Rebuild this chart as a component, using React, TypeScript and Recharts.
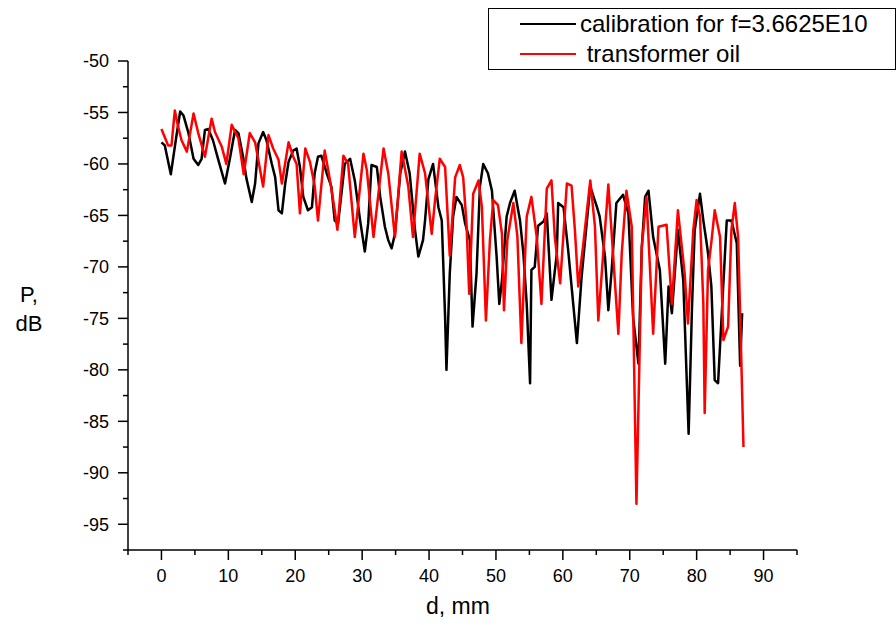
import React from 'react';
import { LineChart, Line, XAxis, YAxis } from 'recharts';

const calibD = [0.0, 0.5, 1.4, 2.3, 2.8, 3.3, 4.0, 4.8, 5.5, 6.0, 6.5, 7.0, 7.7, 8.5, 9.5, 10.2, 11.0, 11.5, 12.2, 12.7, 13.5, 14.0, 14.5, 15.2, 15.7, 16.5, 17.0, 17.5, 18.0, 18.5, 19.0, 19.7, 20.2, 20.7, 21.2, 21.9, 22.5, 22.9, 23.4, 23.9, 24.7, 25.4, 25.9, 26.4, 26.9, 27.4, 28.2, 28.9, 29.7, 30.4, 30.9, 31.4, 32.2, 32.7, 33.4, 33.9, 34.4, 34.9, 35.7, 36.4, 37.1, 37.9, 38.4, 39.1, 39.4, 39.9, 40.6, 41.4, 41.9, 42.4, 42.6, 43.1, 43.6, 44.1, 44.9, 45.4, 46.1, 46.5, 47.1, 47.6, 48.1, 48.8, 49.4, 50.1, 50.5, 50.9, 51.6, 52.1, 52.8, 53.6, 54.1, 54.6, 55.1, 55.3, 55.8, 56.3, 57.1, 57.6, 58.3, 59.1, 59.3, 60.1, 60.8, 62.1, 62.8, 63.6, 64.1, 65.1, 65.5, 66.3, 66.8, 67.3, 68.0, 69.0, 69.8, 70.5, 71.3, 71.8, 72.3, 72.8, 73.5, 74.5, 75.3, 75.8, 76.3, 77.2, 78.0, 78.8, 79.3, 79.7, 80.5, 81.0, 81.5, 81.7, 82.2, 82.7, 83.2, 83.7, 84.5, 85.2, 86.0, 86.5, 86.8];
const calibP = [-57.9, -58.2, -61.0, -57.0, -54.9, -55.3, -56.9, -59.5, -60.1, -59.5, -56.7, -56.6, -57.7, -59.6, -61.9, -59.6, -56.7, -57.0, -59.3, -61.4, -63.7, -61.9, -58.0, -56.9, -57.7, -60.0, -61.3, -64.5, -64.8, -61.9, -59.8, -58.7, -58.5, -60.3, -63.2, -64.5, -64.2, -60.9, -59.3, -59.2, -60.9, -62.2, -65.5, -65.8, -62.9, -60.0, -59.5, -61.6, -65.5, -68.5, -65.8, -60.1, -60.3, -63.2, -66.1, -67.4, -68.2, -66.8, -60.9, -58.8, -60.9, -66.4, -69.0, -67.4, -65.5, -61.5, -60.0, -64.2, -65.5, -74.9, -80.0, -70.6, -65.1, -63.2, -64.0, -65.8, -67.4, -75.8, -70.6, -62.2, -60.0, -60.9, -62.6, -69.0, -73.6, -71.3, -65.1, -63.8, -62.6, -65.5, -68.7, -73.6, -81.3, -70.3, -70.0, -66.0, -65.6, -64.8, -73.2, -68.7, -63.8, -64.2, -68.4, -77.4, -71.0, -65.5, -62.2, -64.2, -65.1, -69.0, -74.2, -70.3, -63.8, -63.0, -64.8, -74.9, -79.4, -68.1, -63.2, -62.6, -67.1, -70.3, -79.4, -71.9, -74.5, -66.4, -71.3, -86.2, -74.0, -66.5, -62.9, -65.5, -67.7, -68.7, -71.9, -81.0, -81.3, -75.2, -65.5, -65.5, -67.7, -79.6, -74.5];

const oilD = [0.0, 1.0, 1.5, 2.0, 2.5, 3.0, 3.8, 4.8, 5.5, 6.5, 7.5, 8.0, 9.0, 9.7, 10.5, 11.5, 12.3, 13.2, 14.0, 15.2, 16.0, 16.7, 17.5, 18.0, 19.0, 19.7, 20.2, 20.7, 21.5, 22.2, 22.9, 23.4, 24.4, 25.2, 25.9, 26.3, 27.2, 27.9, 28.9, 30.2, 30.7, 31.7, 33.2, 33.9, 34.9, 35.9, 36.9, 37.6, 38.6, 39.4, 40.4, 40.9, 41.6, 42.4, 43.1, 43.9, 44.6, 45.1, 45.6, 46.0, 46.6, 47.4, 47.9, 48.5, 49.1, 49.6, 50.3, 50.9, 51.2, 51.7, 52.6, 53.2, 53.8, 54.6, 55.3, 56.1, 56.8, 57.6, 58.3, 58.8, 59.6, 60.6, 61.3, 61.8, 62.3, 63.0, 64.1, 64.8, 65.3, 66.0, 66.8, 67.5, 68.3, 68.8, 69.5, 70.3, 71.0, 71.8, 72.5, 73.5, 74.3, 75.5, 76.3, 77.2, 78.2, 78.7, 79.5, 80.0, 80.5, 81.0, 81.2, 81.7, 82.2, 82.7, 83.5, 84.0, 84.7, 85.2, 85.7, 86.2, 86.7, 87.0];
const oilP = [-56.6, -58.2, -58.2, -54.8, -56.4, -57.7, -58.8, -55.1, -57.0, -59.3, -55.6, -56.9, -58.3, -60.0, -56.2, -57.5, -61.0, -57.0, -57.9, -62.2, -57.2, -58.5, -59.6, -61.9, -57.9, -59.3, -60.0, -64.8, -58.5, -59.8, -62.1, -65.5, -58.7, -61.6, -64.5, -66.4, -59.2, -60.0, -67.1, -59.0, -60.6, -67.1, -58.5, -60.9, -67.1, -58.8, -62.2, -67.1, -59.0, -60.9, -66.8, -63.5, -59.5, -60.3, -68.9, -61.3, -60.1, -61.3, -65.8, -72.6, -62.9, -61.6, -64.2, -75.2, -67.4, -63.5, -64.0, -66.8, -74.2, -67.4, -63.8, -67.0, -77.4, -65.1, -63.2, -67.1, -73.6, -62.4, -61.6, -67.1, -71.6, -61.9, -62.1, -66.4, -71.9, -68.1, -61.6, -66.1, -75.2, -69.0, -62.0, -68.7, -76.5, -68.7, -62.6, -66.1, -93.0, -68.1, -63.2, -76.5, -66.1, -65.9, -73.6, -64.5, -70.6, -75.5, -66.4, -63.5, -65.1, -73.6, -84.2, -70.3, -67.6, -64.5, -67.1, -77.1, -75.8, -66.4, -63.8, -67.1, -79.7, -87.5];

const xTicks = [-5, 0, 5, 10, 15, 20, 25, 30, 35, 40, 45, 50, 55, 60, 65, 70, 75, 80, 85, 90, 95];
const xLabels = [0, 10, 20, 30, 40, 50, 60, 70, 80, 90];
const yTicks = [-97.5, -95, -92.5, -90, -87.5, -85, -82.5, -80, -77.5, -75, -72.5, -70, -67.5, -65, -62.5, -60, -57.5, -55, -52.5, -50];
const yLabels = [-95, -90, -85, -80, -75, -70, -65, -60, -55, -50];

const seriesNames = ['calibration for f=3.6625E10', ' transformer oil'];
const seriesColors = ['#000000', '#ff0000'];

const calibData = calibD.map((d, i) => ({ d, p: calibP[i] }));
const oilData = oilD.map((d, i) => ({ d, p: oilP[i] }));

const FONT = '"Liberation Sans", Arial, sans-serif';

const XTick = (props: any) => {
  const { x, y, payload } = props;
  const v = payload.value;
  const major = xLabels.includes(v);
  const len = major ? 10 : 5;
  return (
    <g>
      <line x1={x} x2={x} y1={y} y2={y + len} stroke="#000" strokeWidth={1.5} />
      {major && (
        <text x={x} y={y + 32} textAnchor="middle" fontSize={18} fontFamily={FONT} fill="#000">
          {v}
        </text>
      )}
    </g>
  );
};

const YTick = (props: any) => {
  const { x, y, payload } = props;
  const v = payload.value;
  const major = yLabels.includes(v);
  const len = major ? 10 : 5;
  return (
    <g>
      <line x1={x} x2={x - len} y1={y} y2={y} stroke="#000" strokeWidth={1.5} />
      {major && (
        <text x={x - 19} y={y} dy="0.35em" textAnchor="end" fontSize={18} fontFamily={FONT} fill="#000">
          {v}
        </text>
      )}
    </g>
  );
};

const LegendBox = () => (
  <div
    style={{
      position: 'absolute',
      left: 488,
      top: 8,
      width: 408,
      height: 62,
      border: '1.5px solid #000',
      background: '#fff',
      boxSizing: 'border-box',
      fontFamily: FONT,
      fontSize: 24,
    }}
  >
    {seriesNames.map((name, i) => (
      <div key={name} style={{ position: 'absolute', left: 31, top: 1 + i * 30, height: 28, display: 'flex', alignItems: 'center', whiteSpace: 'pre' }}>
        <div style={{ width: 56, height: 2.5, background: seriesColors[i], marginRight: 4 }} />
        <span>{name}</span>
      </div>
    ))}
  </div>
);

export default function App() {
  return (
    <div style={{ position: 'absolute', left: 0, top: 0, width: 896, height: 625, background: '#fff' }}>
      <LineChart width={896} height={625} data={calibData} margin={{ top: 61, right: 99, bottom: 35, left: 68 }}>
        <XAxis
          dataKey="d"
          type="number"
          domain={[-5, 95]}
          ticks={xTicks}
          interval={0}
          allowDataOverflow
          tickSize={0}
          tickMargin={0}
          tickLine={false}
          tick={<XTick />}
          height={40}
          axisLine={{ stroke: '#000', strokeWidth: 1.5 }}
        />
        <YAxis
          type="number"
          dataKey="p"
          domain={[-97.5, -50]}
          ticks={yTicks}
          interval={0}
          allowDataOverflow
          tickSize={0}
          tickMargin={0}
          tickLine={false}
          tick={<YTick />}
          width={60}
          axisLine={{ stroke: '#000', strokeWidth: 1.5 }}
        />
        <Line
          data={calibData}
          dataKey="p"
          name={seriesNames[0]}
          stroke={seriesColors[0]}
          strokeWidth={2.5}
          strokeLinejoin="round"
          dot={false}
          type="linear"
          isAnimationActive={false}
        />
        <Line
          data={oilData}
          dataKey="p"
          name={seriesNames[1]}
          stroke={seriesColors[1]}
          strokeWidth={2.5}
          strokeLinejoin="round"
          dot={false}
          type="linear"
          isAnimationActive={false}
        />
      </LineChart>
      <LegendBox />
      <div style={{ position: 'absolute', left: 13, top: 280, fontFamily: FONT, fontSize: 22, lineHeight: '29px', textAlign: 'center', width: 32 }}>
        P,
        <br />
        dB
      </div>
      <div style={{ position: 'absolute', left: 0, width: 916, top: 593, fontFamily: FONT, fontSize: 23, textAlign: 'center' }}>
        d, mm
      </div>
    </div>
  );
}
